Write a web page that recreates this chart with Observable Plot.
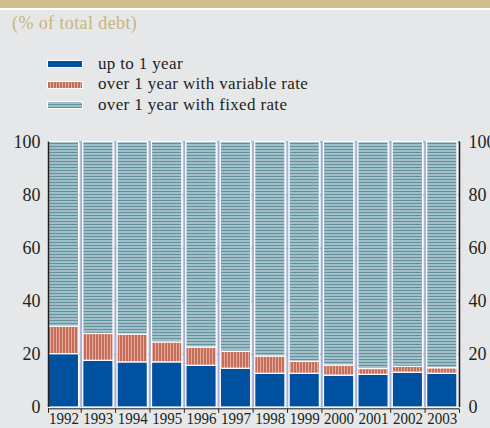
<!DOCTYPE html>
<html>
<head>
<meta charset="utf-8">
<script src="https://cdn.jsdelivr.net/npm/d3@7"></script>
<script src="https://cdn.jsdelivr.net/npm/@observablehq/plot@0.6"></script>
<style>
  html, body { margin: 0; padding: 0; background: #e6e7e9; }
  #wrap { width: 490px; height: 428px; position: relative; overflow: hidden; background: #e6e7e9; font-family: "Liberation Serif", "Times New Roman", serif; }
  #header { position: relative; height: 125px; }
  #band { position: absolute; left: 0; top: 0; width: 490px; height: 8px; background: #cdbf8a; }
  #band2 { position: absolute; left: 0; top: 8px; width: 490px; height: 2px; background: #ffffff; }
  #subtitle { position: absolute; left: 12px; top: 14.4px; font-size: 18px; line-height: 18px; letter-spacing: 0.4px; color: #c6b67a; white-space: nowrap; }
  .sw { position: absolute; left: 47px; width: 36px; height: 8px; box-sizing: border-box; border: 1px solid #ffffff; }
  .lt { position: absolute; left: 98px; font-size: 17px; line-height: 17px; letter-spacing: 0.35px; color: #231f20; white-space: nowrap; }
  #plot svg { display: block; }
</style>
</head>
<body>
<div id="wrap">
  <div id="header">
    <div id="band"></div>
    <div id="band2"></div>
    <div id="subtitle"></div>
    <div id="legend"></div>
  </div>
  <div id="plot"></div>
</div>
<script>
// ---- data ----
const years = [1992, 1993, 1994, 1995, 1996, 1997, 1998, 1999, 2000, 2001, 2002, 2003];
const upToOneYear = [20.1, 17.6, 17.0, 17.0, 15.7, 14.6, 12.7, 12.7, 12.0, 12.3, 13.1, 12.7];
const variableRate = [10.3, 10.1, 10.5, 7.5, 6.9, 6.4, 6.5, 4.5, 3.8, 2.2, 2.2, 2.1];
const fixedRate = [69.6, 72.3, 72.5, 75.5, 77.4, 79.0, 80.8, 82.8, 84.2, 85.5, 84.7, 85.2];
const seriesNames = ["up to 1 year", "over 1 year with variable rate", "over 1 year with fixed rate"];
const yTicks = [0, 20, 40, 60, 80, 100];
const subtitleText = "(% of total debt)";

// ---- styles ----
const colBlue = "#0052a0";
const fills = ["#0052a0", "url(#patVar)", "url(#patFix)"];
const gridColor = "#a7aedb";

// ---- header ----
document.getElementById("subtitle").textContent = subtitleText;
const legend = document.getElementById("legend");
const swatchBg = [
  colBlue,
  "repeating-linear-gradient(90deg, #c46e5e 0px, #c46e5e 2px, #e6aa98 2px, #e6aa98 3px)",
  "repeating-linear-gradient(180deg, #a2bfc8 0px, #a2bfc8 2px, #5f93a0 2px, #5f93a0 3px)"
];
const swTop = [59.5, 80.5, 101];
const txTop = [54.8, 75.3, 95.8];
seriesNames.forEach((name, i) => {
  const sw = document.createElement("div");
  sw.className = "sw";
  sw.style.top = swTop[i] + "px";
  sw.style.background = swatchBg[i];
  legend.appendChild(sw);
  const t = document.createElement("div");
  t.className = "lt";
  t.style.top = txTop[i] + "px";
  t.textContent = name;
  legend.appendChild(t);
});

// ---- table for the stacked bars ----
const series = [upToOneYear, variableRate, fixedRate];
const rows = [];
years.forEach((yr, i) => {
  let acc = 0;
  series.forEach((s, k) => {
    rows.push({year: yr, k, y1: acc, y2: acc + s[i]});
    acc += s[i];
  });
});
const halfBar = 0.44;
const xMin = 1991.55, xMax = 2003.5;
const boundaries = years.slice(0, -1).map(y => y + 0.5);
const gridTicks = [];
boundaries.concat([xMax]).forEach(b => yTicks.slice(1).forEach(v => gridTicks.push({x: b, y: v, right: b === xMax})));
const bottomTicks = [xMin].concat(boundaries, [xMax]);

const hbar = {draw(ctx) { ctx.moveTo(-3, 0); ctx.lineTo(3, 0); }};
const vtick = {draw(ctx) { ctx.moveTo(0, 0); ctx.lineTo(0, 4); }};

const plot = Plot.plot({
  width: 490,
  height: 303,
  marginLeft: 48,
  marginRight: 31,
  marginTop: 16.5,
  marginBottom: 21,
  style: {background: "transparent", fontFamily: "Liberation Serif, Times New Roman, serif", color: "#231f20", overflow: "visible"},
  x: {domain: [xMin, xMax], axis: null},
  y: {domain: [0, 100], axis: null},
  marks: [
    Plot.ruleX(boundaries, {x: d => d, y1: 0, y2: 100, stroke: gridColor, strokeWidth: 2}),
    Plot.dot(gridTicks.filter(d => !d.right), {x: "x", y: "y", symbol: hbar, stroke: gridColor, strokeWidth: 1.5, r: 3}),
    Plot.dot(gridTicks.filter(d => d.right), {x: "x", y: "y", dx: -3, symbol: hbar, stroke: gridColor, strokeWidth: 1.5, r: 3}),
    Plot.rect(rows, {x1: d => d.year - halfBar, x2: d => d.year + halfBar, y1: "y1", y2: "y2", fill: d => fills[d.k], stroke: "#ffffff", strokeWidth: 1.2}),
    Plot.ruleX([xMin, xMax], {y1: 0, y2: 100, stroke: "#231f20", strokeWidth: 1.5}),
    Plot.ruleY([0], {x1: xMin, x2: xMax, dy: 1.3, stroke: "#231f20", strokeWidth: 1}),
    Plot.dot(bottomTicks, {x: d => d, y: 0, dy: 1.3, symbol: vtick, stroke: "#231f20", strokeWidth: 1, r: 3}),
    Plot.axisY({anchor: "left", ticks: yTicks, tickSize: 0, tickPadding: 8, fontSize: 18, label: null}),
    Plot.axisY({anchor: "right", ticks: yTicks, tickSize: 0, tickPadding: 9, fontSize: 18, label: null}),
    Plot.axisX({ticks: years, tickFormat: d => String(d), tickSize: 0, tickPadding: 4, fontSize: 17, label: null})
  ]
});

const svg = d3.select(plot);
const defs = svg.insert("defs", ":first-child");
const pv = defs.append("pattern").attr("id", "patVar").attr("patternUnits", "userSpaceOnUse").attr("width", 3).attr("height", 10);
pv.append("rect").attr("width", 3).attr("height", 10).attr("fill", "#e6aa98");
pv.append("rect").attr("width", 2).attr("height", 10).attr("fill", "#c46e5e");
const pf = defs.append("pattern").attr("id", "patFix").attr("patternUnits", "userSpaceOnUse").attr("width", 10).attr("height", 3);
pf.append("rect").attr("width", 10).attr("height", 3).attr("fill", "#a2bfc8");
pf.append("rect").attr("width", 10).attr("height", 1).attr("fill", "#5f93a0");

// condensed year labels
svg.selectAll("g[aria-label='x-axis tick label'] text").attr("textLength", 30).attr("lengthAdjust", "spacingAndGlyphs");

document.getElementById("plot").appendChild(plot);
</script>
</body>
</html>
